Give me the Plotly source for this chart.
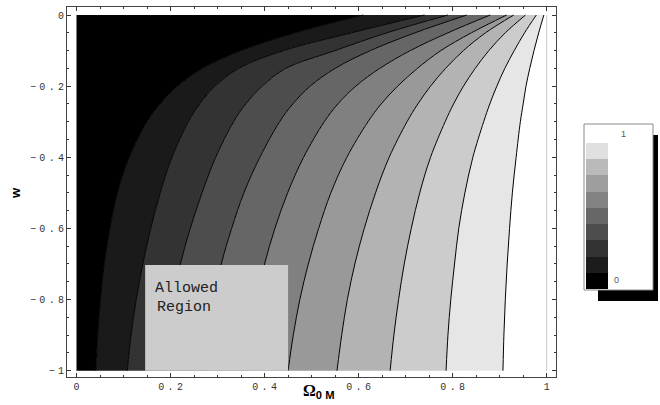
import plotly.graph_objects as go

# ---- data ----
w_levels = [0, -0.05, -0.1, -0.15, -0.2, -0.25, -0.3, -0.4, -0.5, -0.6, -0.7, -0.8, -0.9, -1.0]

contour_1 = [0.61, 0.465, 0.35, 0.268, 0.215, 0.178, 0.15, 0.112, 0.087, 0.071, 0.059, 0.051, 0.045, 0.041]
contour_2 = [0.74, 0.585, 0.44, 0.345, 0.295, 0.262, 0.238, 0.203, 0.178, 0.158, 0.141, 0.127, 0.116, 0.108]
contour_3 = [0.79, 0.66, 0.55, 0.445, 0.395, 0.36, 0.334, 0.296, 0.267, 0.242, 0.221, 0.206, 0.196, 0.19]
contour_4 = [0.83, 0.72, 0.625, 0.55, 0.497, 0.46, 0.432, 0.39, 0.356, 0.33, 0.308, 0.293, 0.283, 0.277]
contour_5 = [0.88, 0.79, 0.71, 0.645, 0.594, 0.556, 0.527, 0.483, 0.449, 0.422, 0.40, 0.383, 0.372, 0.365]
contour_6 = [0.915, 0.84, 0.775, 0.725, 0.683, 0.648, 0.62, 0.575, 0.541, 0.515, 0.493, 0.475, 0.461, 0.45]
contour_7 = [0.93, 0.87, 0.823, 0.785, 0.753, 0.726, 0.703, 0.665, 0.636, 0.612, 0.592, 0.576, 0.564, 0.554]
contour_8 = [0.955, 0.912, 0.877, 0.848, 0.823, 0.802, 0.784, 0.753, 0.73, 0.712, 0.697, 0.685, 0.675, 0.667]
contour_9 = [0.978, 0.953, 0.931, 0.911, 0.894, 0.879, 0.866, 0.843, 0.826, 0.813, 0.804, 0.796, 0.79, 0.786]
contour_10 = [0.994, 0.983, 0.973, 0.964, 0.956, 0.95, 0.944, 0.935, 0.927, 0.921, 0.916, 0.912, 0.909, 0.907]

contours = [contour_1, contour_2, contour_3, contour_4, contour_5,
            contour_6, contour_7, contour_8, contour_9, contour_10]

band_colors = ["#000000", "#1a1a1a", "#333333", "#4d4d4d", "#666666",
               "#808080", "#999999", "#b3b3b3", "#cccccc", "#e6e6e6", "#ffffff"]

omega_domain = [0, 1]
w_domain = [0, -1]

allowed_x = [0.146, 0.45]
allowed_w = [-0.703, -1.0]
allowed_text = ["Allowed", "Region"]

TS = "\u2004"
x_tickvals = [0, 0.2, 0.4, 0.6, 0.8, 1]
x_ticktext = ["0", TS.join("0.2"), TS.join("0.4"), TS.join("0.6"), TS.join("0.8"), "1"]
y_tickvals = [0, -0.2, -0.4, -0.6, -0.8, -1]
y_ticktext = ["0", TS.join("\u22120.2"), TS.join("\u22120.4"), TS.join("\u22120.6"),
              TS.join("\u22120.8"), TS.join("\u22121")]

legend_colors = ["#000000", "#1c1c1c", "#333333", "#4d4d4d", "#676767",
                 "#828282", "#9e9e9e", "#bababa", "#e0e0e0"]
legend_labels = ["0", "1"]

# ---- figure ----
fig = go.Figure()

# left boundary of the region
fig.add_trace(go.Scatter(x=[omega_domain[0]] * 2, y=w_domain, mode="lines",
                         line=dict(width=0, color="black"), hoverinfo="skip"))
for i, c in enumerate(contours):
    fig.add_trace(go.Scatter(x=c, y=w_levels, mode="lines", fill="tonextx",
                             fillcolor=band_colors[i],
                             line=dict(color="black", width=1, shape="spline"),
                             hoverinfo="skip"))
# right boundary
fig.add_trace(go.Scatter(x=[omega_domain[1]] * 2, y=w_domain, mode="lines", fill="tonextx",
                         fillcolor=band_colors[-1],
                         line=dict(color="#c8c8c8", width=1), hoverinfo="skip"))

# allowed region box
fig.add_trace(go.Scatter(x=[allowed_x[0], allowed_x[1], allowed_x[1], allowed_x[0], allowed_x[0]],
                         y=[allowed_w[0], allowed_w[0], allowed_w[1], allowed_w[1], allowed_w[0]],
                         mode="lines", fill="toself", fillcolor="#cccccc",
                         line=dict(width=0, color="#cccccc"), hoverinfo="skip"))

# legend swatches
fig.add_trace(go.Bar(x=[0] * len(legend_colors), y=[1] * len(legend_colors),
                     base=list(range(len(legend_colors))), width=1,
                     marker=dict(color=legend_colors, line=dict(width=0)),
                     xaxis="x2", yaxis="y2", hoverinfo="skip"))

PW = 593.0
PH = 370.0
def px(xp):
    return (xp - 67) / PW
def py(yp):
    return (377 - yp) / PH

tickfont = dict(family="Liberation Mono", size=10, color="#333333")
axis_common = dict(showline=True, linecolor="#444444", linewidth=1, mirror="allticks",
                   ticks="inside", ticklen=4, tickwidth=1, tickcolor="#333333",
                   showgrid=False, zeroline=False, tickfont=tickfont, automargin=False,
                   minor=dict(ticks="inside", ticklen=2, tickwidth=1, tickcolor="#333333", dtick=0.05))

fig.update_layout(
    width=660, height=405,
    margin=dict(l=67, r=0, t=7, b=28, autoexpand=False),
    paper_bgcolor="white", plot_bgcolor="rgba(0,0,0,0)",
    showlegend=False,
    xaxis=dict(domain=[0, 489 / PW], range=[-0.0202, 1.0198],
               tickvals=x_tickvals, ticktext=x_ticktext, **axis_common),
    yaxis=dict(domain=[0, 1], range=[-1.0177, 0.0225],
               tickvals=y_tickvals, ticktext=y_ticktext, **axis_common),
    xaxis2=dict(domain=[px(586), px(608)], range=[-0.5, 0.5], visible=False, anchor="y2"),
    yaxis2=dict(domain=[py(289), py(143)], range=[0, len(legend_colors)], visible=False, anchor="x2"),
    bargap=0,
    shapes=[
        dict(type="rect", xref="paper", yref="paper", x0=px(598), x1=px(658), y0=py(301), y1=py(135),
             fillcolor="black", line=dict(width=0), layer="below"),
        dict(type="rect", xref="paper", yref="paper", x0=px(584), x1=px(653), y0=py(290), y1=py(124),
             fillcolor="white", line=dict(color="#8a8a8a", width=1), layer="below"),
    ],
    annotations=[
        dict(x=0.162, y=-0.7675, xref="x", yref="y", text=allowed_text[0], showarrow=False,
             xanchor="left", yanchor="middle",
             font=dict(family="Liberation Mono", size=15, color="#222222")),
        dict(x=0.168, y=-0.821, xref="x", yref="y", text=allowed_text[1], showarrow=False,
             xanchor="left", yanchor="middle",
             font=dict(family="Liberation Mono", size=15, color="#222222")),
        dict(x=px(15), y=py(193), xref="paper", yref="paper", text="<b>w</b>", showarrow=False,
             textangle=-90, xanchor="center", yanchor="middle",
             font=dict(family="Liberation Sans", size=13, color="black")),
        dict(x=px(318), y=py(391), xref="paper", yref="paper",
             text="<b>Ω</b><sub><b><span style=\"font-family:Liberation Sans\">0 M</span></b></sub>",
             showarrow=False, xanchor="center", yanchor="middle",
             font=dict(family="Liberation Serif", size=16, color="black")),
        dict(x=px(623), y=py(134), xref="paper", yref="paper", text=legend_labels[1], showarrow=False,
             xanchor="center", yanchor="middle",
             font=dict(family="Liberation Sans", size=9, color="#555555")),
        dict(x=px(616), y=py(280), xref="paper", yref="paper", text=legend_labels[0], showarrow=False,
             xanchor="center", yanchor="middle",
             font=dict(family="Liberation Sans", size=9, color="#555555")),
    ],
)

fig.write_html("out.html", config={"displayModeBar": False},
               post_script="document.body.style.margin='0px';")
